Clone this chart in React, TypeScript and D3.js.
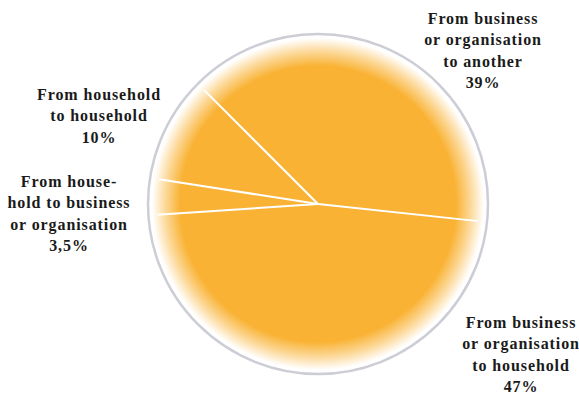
import React from "react";
import * as d3 from "d3";

const categories = [
  "From business or organisation to another",
  "From business or organisation to household",
  "From household to business or organisation",
  "From household to household",
];
const values = [39, 47, 3.5, 10];
const labelLines = [
  ["From business", "or organisation", "to another", "39%"],
  ["From business", "or organisation", "to household", "47%"],
  ["From house-", "hold to business", "or organisation", "3,5%"],
  ["From household", "to household", "10%"],
];
const labelPos = [
  { x: 483, y: 24 },
  { x: 521, y: 328 },
  { x: 69, y: 187 },
  { x: 99, y: 100 },
];

const W = 579;
const H = 394;
const cx = 318;
const cy = 204;
const rOuter = 170;
const rDisc = 166;
const rLine = 161;
const orange = "#F9B233";

export default function App() {
  const pie = d3
    .pie<number>()
    .sort(null)
    .value((d) => d)
    .startAngle(-Math.PI / 4)
    .endAngle((7 * Math.PI) / 4);
  const arcs = pie(values);
  const arcGen = d3.arc<d3.PieArcDatum<number>>().innerRadius(0).outerRadius(rDisc);

  return (
    <svg
      width={W}
      height={H}
      style={{ position: "absolute", left: 0, top: 0, background: "#fff" }}
      fontFamily="'Liberation Serif', serif"
    >
      <defs>
        <radialGradient id="fade" gradientUnits="userSpaceOnUse" cx={0} cy={0} r={rDisc}>
          <stop offset="0" stopColor={orange} stopOpacity={1} />
          <stop offset="0.83" stopColor={orange} stopOpacity={1} />
          <stop offset="0.92" stopColor={orange} stopOpacity={0.5} />
          <stop offset="1" stopColor={orange} stopOpacity={0} />
        </radialGradient>
      </defs>
      <g transform={`translate(${cx},${cy})`}>
        {arcs.map((a, i) => (
          <path key={categories[i]} d={arcGen(a) || ""} fill="url(#fade)" />
        ))}
        {arcs.map((a, i) => {
          const ang = a.startAngle;
          const x2 = rLine * Math.sin(ang);
          const y2 = -rLine * Math.cos(ang);
          return <line key={"l" + i} x1={0} y1={0} x2={x2} y2={y2} stroke="#fff" strokeWidth={2} />;
        })}
        <circle cx={0} cy={0} r={rOuter} fill="none" stroke="#cdcdd5" strokeWidth={2.5} />
      </g>
      {labelLines.map((lines, i) => (
        <text
          key={"t" + i}
          x={labelPos[i].x}
          y={labelPos[i].y}
          textAnchor="middle"
          fontSize={16}
          fontWeight="bold"
          letterSpacing={0.9}
          fill="#1a1a1a"
        >
          {lines.map((ln, j) => (
            <tspan key={j} x={labelPos[i].x} dy={j === 0 ? 0 : 21.3}>
              {ln}
            </tspan>
          ))}
        </text>
      ))}
    </svg>
  );
}
